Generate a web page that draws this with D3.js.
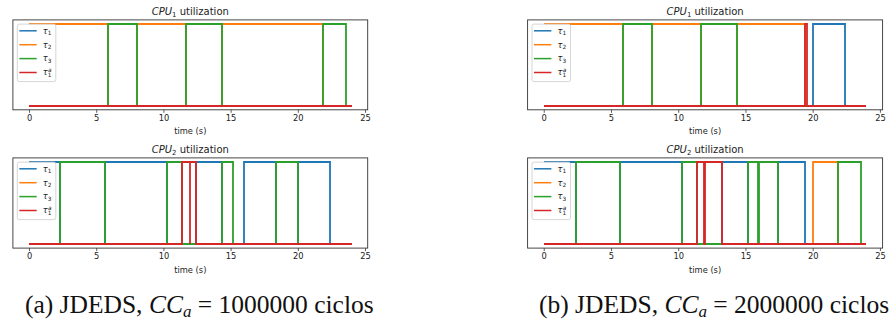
<!DOCTYPE html>
<html><head><meta charset="utf-8">
<script src="https://cdn.jsdelivr.net/npm/d3@7"></script>
<style>
html,body{margin:0;padding:0;background:#fff;}
svg{display:block;}
</style></head>
<body>
<svg id="chart" width="889" height="327"></svg>
<script>
// ---------- data ----------
const xTicks = [0, 5, 10, 15, 20, 25];
const tEnd = 24;
const taskNames = ["τ1", "τ2", "τ3", "τ1a"];
const taskColors = ["#1f77b4", "#ff7f0e", "#2ca02c", "#d62728"];
const cpuTitles = ["1", "2"];
const captions = ["(a)", "(b)"];
const captionValues = ["1000000", "2000000"];

// run intervals [start, end] (s) per task
// (a) CC_a = 1000000
const a_cpu1_tau1 = [];
const a_cpu1_tau2 = [[0, 5.85], [8.0, 11.68], [14.36, 21.9]];
const a_cpu1_tau3 = [[5.85, 8.0], [11.68, 14.36], [21.9, 23.6]];
const a_cpu1_tau1a = [];
const a_cpu2_tau1 = [[0, 2.33], [5.65, 10.27], [12.4, 14.38], [16.0, 18.35], [20.0, 22.37]];
const a_cpu2_tau2 = [];
const a_cpu2_tau3 = [[2.33, 5.65], [10.27, 11.35], [14.38, 15.2], [18.35, 20.0]];
const a_cpu2_tau1a = [[11.35, 11.95], [12.0, 12.4]];
// (b) CC_a = 2000000
const b_cpu1_tau1 = [[20.0, 22.38]];
const b_cpu1_tau2 = [[0, 5.9], [8.05, 11.7], [14.37, 19.4]];
const b_cpu1_tau3 = [[5.9, 8.05], [11.7, 14.37]];
const b_cpu1_tau1a = [[19.4, 19.6]];
const b_cpu2_tau1 = [[0, 2.38], [5.65, 10.3], [13.23, 15.2], [17.44, 19.4]];
const b_cpu2_tau2 = [[20.0, 21.9]];
const b_cpu2_tau3 = [[2.38, 5.65], [10.3, 11.4], [15.2, 15.95], [16.03, 17.44], [21.9, 23.6]];
const b_cpu2_tau1a = [[11.4, 11.92], [12.02, 13.23]];

const panels = [
  {col: 0, row: 0, series: [a_cpu1_tau1, a_cpu1_tau2, a_cpu1_tau3, a_cpu1_tau1a]},
  {col: 0, row: 1, series: [a_cpu2_tau1, a_cpu2_tau2, a_cpu2_tau3, a_cpu2_tau1a]},
  {col: 1, row: 0, series: [b_cpu1_tau1, b_cpu1_tau2, b_cpu1_tau3, b_cpu1_tau1a]},
  {col: 1, row: 1, series: [b_cpu2_tau1, b_cpu2_tau2, b_cpu2_tau3, b_cpu2_tau1a]},
];

// ---------- layout ----------
const colX = [[12.9, 367.7], [527.6, 882.6]];
const rowY = [[19.9, 109.8], [157.9, 248.1]];
const SANS = "'DejaVu Sans', sans-serif";
const svg = d3.select("#chart");

function stepPoints(intervals) {
  const pts = [];
  if (intervals.length && intervals[0][0] === 0) pts.push([0, 1]); else pts.push([0, 0]);
  intervals.forEach(([s, e], i) => {
    if (!(i === 0 && s === 0)) { pts.push([s, 0]); pts.push([s, 1]); }
    pts.push([e, 1]); pts.push([e, 0]);
  });
  pts.push([tEnd, 0]);
  return pts;
}

panels.forEach(p => {
  const [x0, x1] = colX[p.col];
  const [y0, y1] = rowY[p.row];
  const x = d3.scaleLinear().domain([-1.2, 25.2]).range([x0, x1]);
  const y = d3.scaleLinear().domain([-0.05, 1.05]).range([y1, y0]);
  const g = svg.append("g");

  const line = d3.line().x(d => Math.round(x(d[0]))).y(d => Math.round(y(d[1])));
  p.series.forEach((iv, i) => {
    g.append("path").attr("d", line(stepPoints(iv)))
      .attr("fill", "none").attr("stroke", taskColors[i])
      .attr("stroke-width", 1.8).attr("stroke-linejoin", "miter");
  });

  // frame
  g.append("rect").attr("x", x0).attr("y", y0).attr("width", x1 - x0).attr("height", y1 - y0)
    .attr("fill", "none").attr("stroke", "#333").attr("stroke-width", 0.9);

  // x axis
  const ax = g.append("g").attr("transform", `translate(0,${y1})`)
    .call(d3.axisBottom(x).tickValues(xTicks).tickSize(3).tickPadding(2.5).tickFormat(d3.format("d")));
  ax.select(".domain").remove();
  ax.selectAll(".tick line").attr("stroke", "#333").attr("stroke-width", 0.8);
  ax.selectAll(".tick text").attr("font-family", SANS).attr("font-size", 8.3).attr("fill", "#222");

  g.append("text").attr("x", (x0 + x1) / 2).attr("y", y1 + 24.5)
    .attr("text-anchor", "middle").attr("font-family", SANS).attr("font-size", 8.3).attr("fill", "#222")
    .text("time (s)");

  // title
  const t = g.append("text").attr("x", (x0 + x1) / 2).attr("y", y0 - 5)
    .attr("text-anchor", "middle").attr("font-family", SANS).attr("font-size", 10).attr("fill", "#222");
  t.append("tspan").attr("font-style", "italic").text("CPU");
  t.append("tspan").attr("font-size", 7).attr("dy", 2).text(cpuTitles[p.row]);
  t.append("tspan").attr("dy", -2).text(" utilization");

  // legend
  const lx = x0 + 4.4, ly = y0 + 4.2;
  g.append("rect").attr("x", lx).attr("y", ly).attr("width", 38.5).attr("height", 57.5)
    .attr("rx", 2).attr("fill", "#fff").attr("fill-opacity", 0.8)
    .attr("stroke", "#ccc").attr("stroke-width", 0.8);
  taskNames.forEach((name, i) => {
    const yy = ly + 6.7 + i * 13.9;
    g.append("line").attr("x1", lx + 2).attr("x2", lx + 19.4).attr("y1", yy).attr("y2", yy)
      .attr("stroke", taskColors[i]).attr("stroke-width", 1.5);
    const tx = g.append("text").attr("x", lx + 25.5).attr("y", yy + 2.8)
      .attr("font-family", SANS).attr("font-size", 8.3).attr("fill", "#222");
    tx.append("tspan").attr("font-style", "italic").text(name[0]);
    tx.append("tspan").attr("font-size", 5.8).attr("dy", 1.8).text(name[1]);
    if (name.length > 2) {
      g.append("text").attr("x", lx + 30.8).attr("y", yy - 0.8)
        .attr("font-family", SANS).attr("font-size", 5.8).attr("font-style", "italic").attr("fill", "#222")
        .text(name[2]);
    }
  });
});

// captions
[0, 1].forEach(c => {
  const [x0, x1] = colX[c];
  const t = svg.append("text").attr("x", (x0 + x1) / 2 + 9).attr("y", 313)
    .attr("text-anchor", "middle").attr("font-family", "'Liberation Serif', serif")
    .attr("font-size", 25.5).attr("fill", "#111");
  t.append("tspan").text(captions[c] + " JDEDS, ");
  t.append("tspan").attr("font-style", "italic").text("CC");
  t.append("tspan").attr("font-style", "italic").attr("font-size", 17).attr("dy", 4).text("a");
  t.append("tspan").attr("dy", -4).text(" = " + captionValues[c] + " ciclos");
});
</script>
</body></html>
